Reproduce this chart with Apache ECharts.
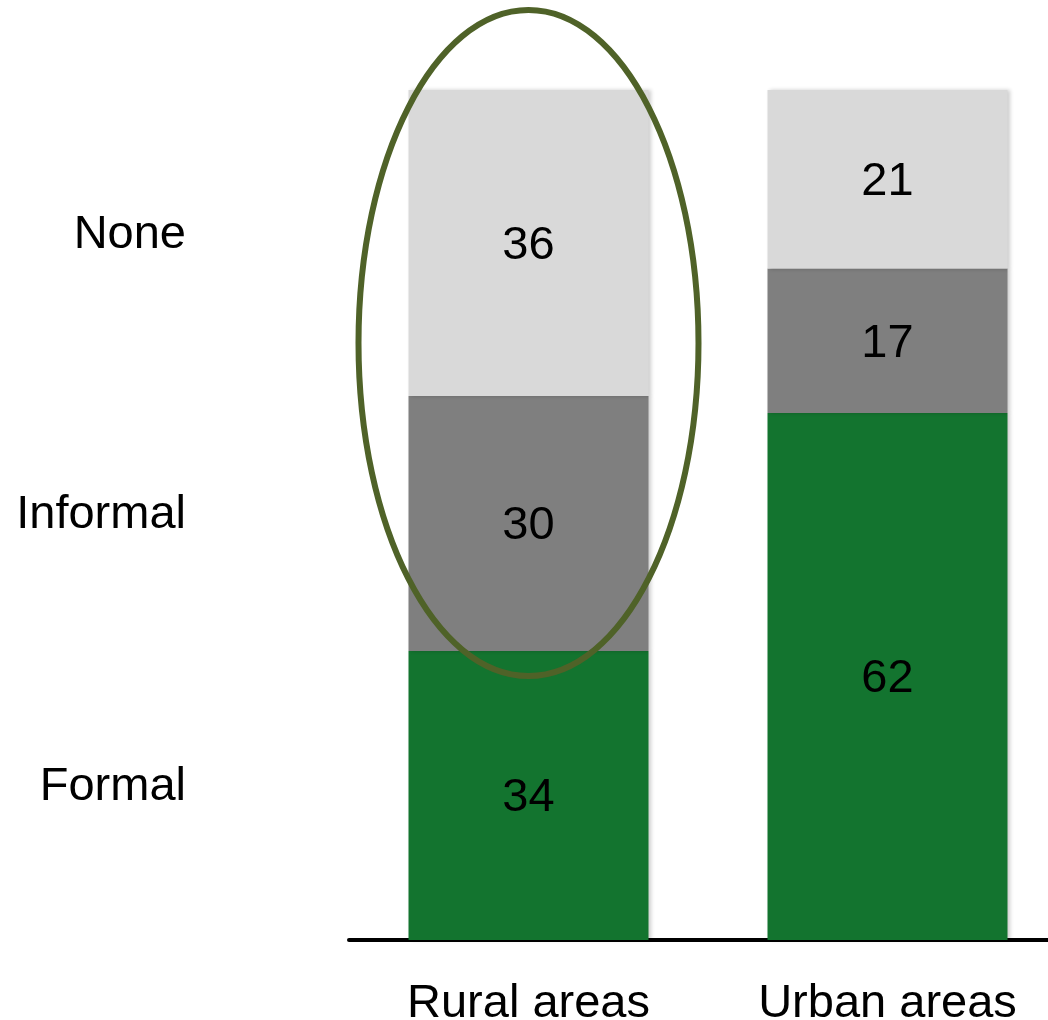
<!DOCTYPE html>
<html>
<head>
<meta charset="utf-8">
<script src="https://cdn.jsdelivr.net/npm/echarts@6/dist/echarts.min.js"></script>
<style>
  html, body { margin: 0; padding: 0; background: #ffffff; }
  #chart { width: 1048px; height: 1020px; }
</style>
</head>
<body>
<div id="chart"></div>
<script>
// Areas on the horizontal axis
const areas = ['Rural areas', 'Urban areas'];
// Share of each access type (percent), stacked bottom to top
const formal = [34, 62];
const informal = [30, 17];
const none = [36, 21];
const typeNames = ['Formal', 'Informal', 'None'];

const FONT = "'Liberation Sans', Arial, sans-serif";
const colors = { Formal: '#13742F', Informal: '#7F7F7F', None: '#D9D9D9' };

const chart = echarts.init(document.getElementById('chart'));

function segment(name, values) {
  return {
    name: name,
    type: 'bar',
    stack: 'total',
    barWidth: 240,
    data: values,
    itemStyle: {
      color: colors[name],
      shadowColor: 'rgba(0,0,0,0.2)',
      shadowBlur: 4,
      shadowOffsetX: 2,
      shadowOffsetY: 0
    },
    label: {
      show: true,
      position: 'inside',
      offset: [0, 3],
      color: '#000',
      fontFamily: FONT,
      fontSize: 47
    },
    emphasis: { disabled: true },
    silent: true
  };
}

chart.setOption({
  animation: false,
  backgroundColor: '#ffffff',
  grid: { left: 349, top: 90, width: 718, bottom: 80, outerBoundsMode: 'none', containLabel: false },
  xAxis: {
    type: 'category',
    data: areas,
    axisLine: { show: true, lineStyle: { color: '#000', width: 4 } },
    axisTick: { show: false },
    axisLabel: { color: '#000', fontFamily: FONT, fontSize: 47, margin: 41 }
  },
  yAxis: {
    type: 'value',
    min: 0,
    max: 100,
    show: false
  },
  series: [
    segment('Formal', formal),
    segment('Informal', informal),
    segment('None', none)
  ]
});

// Category names to the left of the rural bar, and the ellipse around its upper segments
const stacks = [formal, informal, none];
const graphics = [];
let base = 0;
stacks.forEach(function (vals, i) {
  const mid = base + vals[0] / 2;
  base += vals[0];
  const p = chart.convertToPixel({ gridIndex: 0 }, [0, mid]);
  graphics.push({
    type: 'text',
    style: {
      text: typeNames[i],
      x: 186,
      y: p[1] - 8,
      align: 'right',
      verticalAlign: 'middle',
      fill: '#000',
      font: '47px ' + FONT
    },
    silent: true
  });
});

const topPt = chart.convertToPixel({ gridIndex: 0 }, [0, 100]);
graphics.push({
  type: 'ellipse',
  shape: { cx: topPt[0], cy: 343, rx: 170, ry: 333 },
  style: { fill: 'none', stroke: '#4F6228', lineWidth: 6 },
  silent: true,
  z: 100
});

chart.setOption({ graphic: graphics });
</script>
</body>
</html>
